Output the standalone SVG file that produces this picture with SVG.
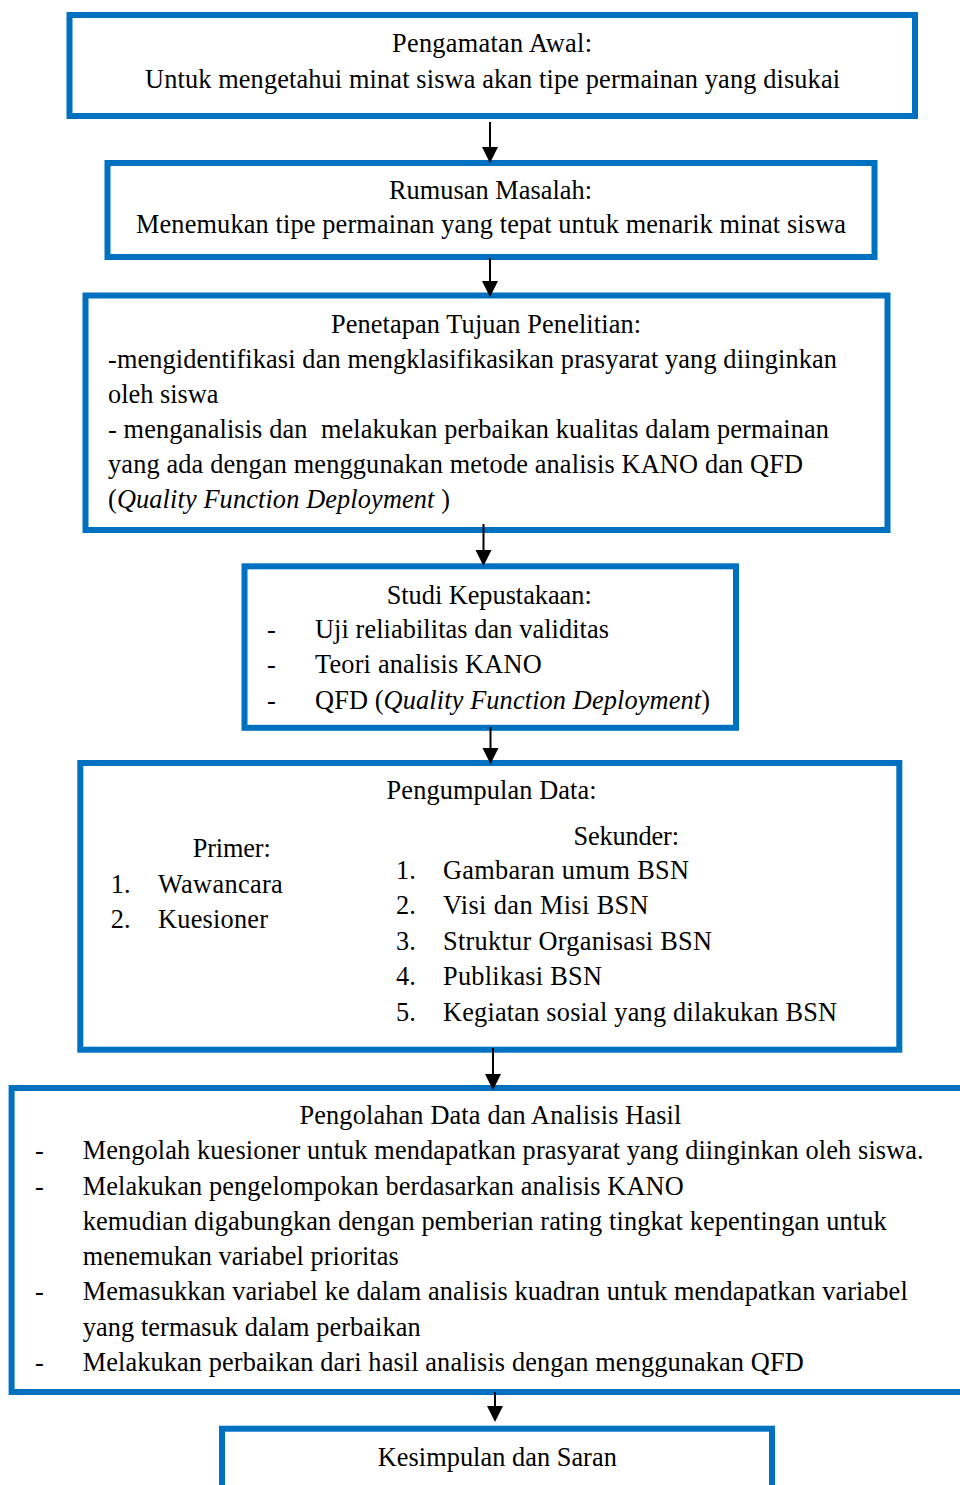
<svg xmlns="http://www.w3.org/2000/svg" width="960" height="1485" viewBox="0 0 960 1485">
<style>
.box{fill:#ffffff;stroke:#0070C0;stroke-width:6}
text{font-family:"Liberation Serif","Times New Roman",serif;font-size:26.3px;fill:#000;white-space:pre}
.it{font-style:italic}
.ln{stroke:#000;stroke-width:2;fill:none}
.hd{fill:#000}
</style>
<rect width="960" height="1485" fill="#ffffff"/>
<g id="node-pengamatan">
<rect class="box" x="69.5" y="15" width="845.5" height="101"/>
<text x="392" y="52" textLength="200" lengthAdjust="spacing">Pengamatan Awal:</text>
<text x="145" y="88" textLength="695" lengthAdjust="spacing">Untuk mengetahui minat siswa akan tipe permainan yang disukai</text>
</g>
<g id="node-rumusan">
<rect class="box" x="107.5" y="163" width="767" height="94"/>
<text x="389" y="199" textLength="203" lengthAdjust="spacing">Rumusan Masalah:</text>
<text x="136" y="233" textLength="710" lengthAdjust="spacing">Menemukan tipe permainan yang tepat untuk menarik minat siswa</text>
</g>
<g id="node-tujuan">
<rect class="box" x="85.5" y="295.5" width="802" height="234.5"/>
<text x="331" y="333" textLength="310" lengthAdjust="spacing">Penetapan Tujuan Penelitian:</text>
<text x="108" y="368" textLength="729" lengthAdjust="spacing">-mengidentifikasi dan mengklasifikasikan prasyarat yang diinginkan</text>
<text x="108" y="403" textLength="110.5" lengthAdjust="spacing">oleh siswa</text>
<text x="108" y="438" textLength="721" lengthAdjust="spacing">- menganalisis dan  melakukan perbaikan kualitas dalam permainan</text>
<text x="108" y="473" textLength="695" lengthAdjust="spacing">yang ada dengan menggunakan metode analisis KANO dan QFD</text>
<text x="108" y="508" textLength="342" lengthAdjust="spacing">(<tspan class="it">Quality Function Deployment</tspan> )</text>
</g>
<g id="node-studi">
<rect class="box" x="244.5" y="566.3" width="491.5" height="161.5"/>
<text x="386.7" y="604" textLength="205" lengthAdjust="spacing">Studi Kepustakaan:</text>
<text x="267" y="638">-</text>
<text x="315" y="638" textLength="294" lengthAdjust="spacing">Uji reliabilitas dan validitas</text>
<text x="267" y="673">-</text>
<text x="315" y="673" textLength="226.7" lengthAdjust="spacing">Teori analisis KANO</text>
<text x="267" y="709">-</text>
<text x="315" y="709" textLength="395" lengthAdjust="spacing">QFD (<tspan class="it">Quality Function Deployment</tspan>)</text>
</g>
<g id="node-pengumpulan">
<rect class="box" x="80.3" y="763" width="819" height="286.7"/>
<text x="386.6" y="799" textLength="210" lengthAdjust="spacing">Pengumpulan Data:</text>
<text x="192.7" y="857" textLength="78" lengthAdjust="spacing">Primer:</text>
<text x="110.8" y="893">1.</text>
<text x="158" y="893" textLength="124.7" lengthAdjust="spacing">Wawancara</text>
<text x="110.8" y="928">2.</text>
<text x="158" y="928" textLength="110" lengthAdjust="spacing">Kuesioner</text>
<text x="573.6" y="845" textLength="105.4" lengthAdjust="spacing">Sekunder:</text>
<text x="396" y="879">1.</text>
<text x="443" y="879" textLength="246" lengthAdjust="spacing">Gambaran umum BSN</text>
<text x="396" y="914">2.</text>
<text x="443" y="914" textLength="205.6" lengthAdjust="spacing">Visi dan Misi BSN</text>
<text x="396" y="950">3.</text>
<text x="443" y="950" textLength="269" lengthAdjust="spacing">Struktur Organisasi BSN</text>
<text x="396" y="985">4.</text>
<text x="443" y="985" textLength="159" lengthAdjust="spacing">Publikasi BSN</text>
<text x="396" y="1020.7">5.</text>
<text x="443" y="1020.7" textLength="394" lengthAdjust="spacing">Kegiatan sosial yang dilakukan BSN</text>
</g>
<g id="node-pengolahan">
<rect class="box" x="11.6" y="1088" width="960" height="304"/>
<text x="299.4" y="1124" textLength="382" lengthAdjust="spacing">Pengolahan Data dan Analisis Hasil</text>
<text x="35" y="1159">-</text>
<text x="82.7" y="1159" textLength="841" lengthAdjust="spacing">Mengolah kuesioner untuk mendapatkan prasyarat yang diinginkan oleh siswa.</text>
<text x="35" y="1195">-</text>
<text x="82.7" y="1195" textLength="601" lengthAdjust="spacing">Melakukan pengelompokan berdasarkan analisis KANO</text>
<text x="82.7" y="1230" textLength="804" lengthAdjust="spacing">kemudian digabungkan dengan pemberian rating tingkat kepentingan untuk</text>
<text x="82.7" y="1265" textLength="316" lengthAdjust="spacing">menemukan variabel prioritas</text>
<text x="35" y="1300">-</text>
<text x="82.7" y="1300" textLength="825" lengthAdjust="spacing">Memasukkan variabel ke dalam analisis kuadran untuk mendapatkan variabel</text>
<text x="82.7" y="1336" textLength="338" lengthAdjust="spacing">yang termasuk dalam perbaikan</text>
<text x="35" y="1371">-</text>
<text x="82.7" y="1371" textLength="721" lengthAdjust="spacing">Melakukan perbaikan dari hasil analisis dengan menggunakan QFD</text>
</g>
<g id="node-kesimpulan">
<rect class="box" x="222" y="1428.7" width="550" height="100"/>
<text x="377.8" y="1466" textLength="239" lengthAdjust="spacing">Kesimpulan dan Saran</text>
</g>
<g id="connectors">
<line class="ln" x1="490" y1="122" x2="490" y2="150"/>
<polygon class="hd" points="482,147 498,147 490,163"/>
<line class="ln" x1="490" y1="258" x2="490" y2="284"/>
<polygon class="hd" points="482,281 498,281 490,297"/>
<line class="ln" x1="483.5" y1="524" x2="483.5" y2="553"/>
<polygon class="hd" points="475.5,550 491.5,550 483.5,566"/>
<line class="ln" x1="490.5" y1="727" x2="490.5" y2="751"/>
<polygon class="hd" points="482.5,748 498.5,748 490.5,764"/>
<line class="ln" x1="493" y1="1048" x2="493" y2="1077"/>
<polygon class="hd" points="485,1074 501,1074 493,1090"/>
<line class="ln" x1="495" y1="1392" x2="495" y2="1409"/>
<polygon class="hd" points="487,1406 503,1406 495,1422"/>
</g>
</svg>
